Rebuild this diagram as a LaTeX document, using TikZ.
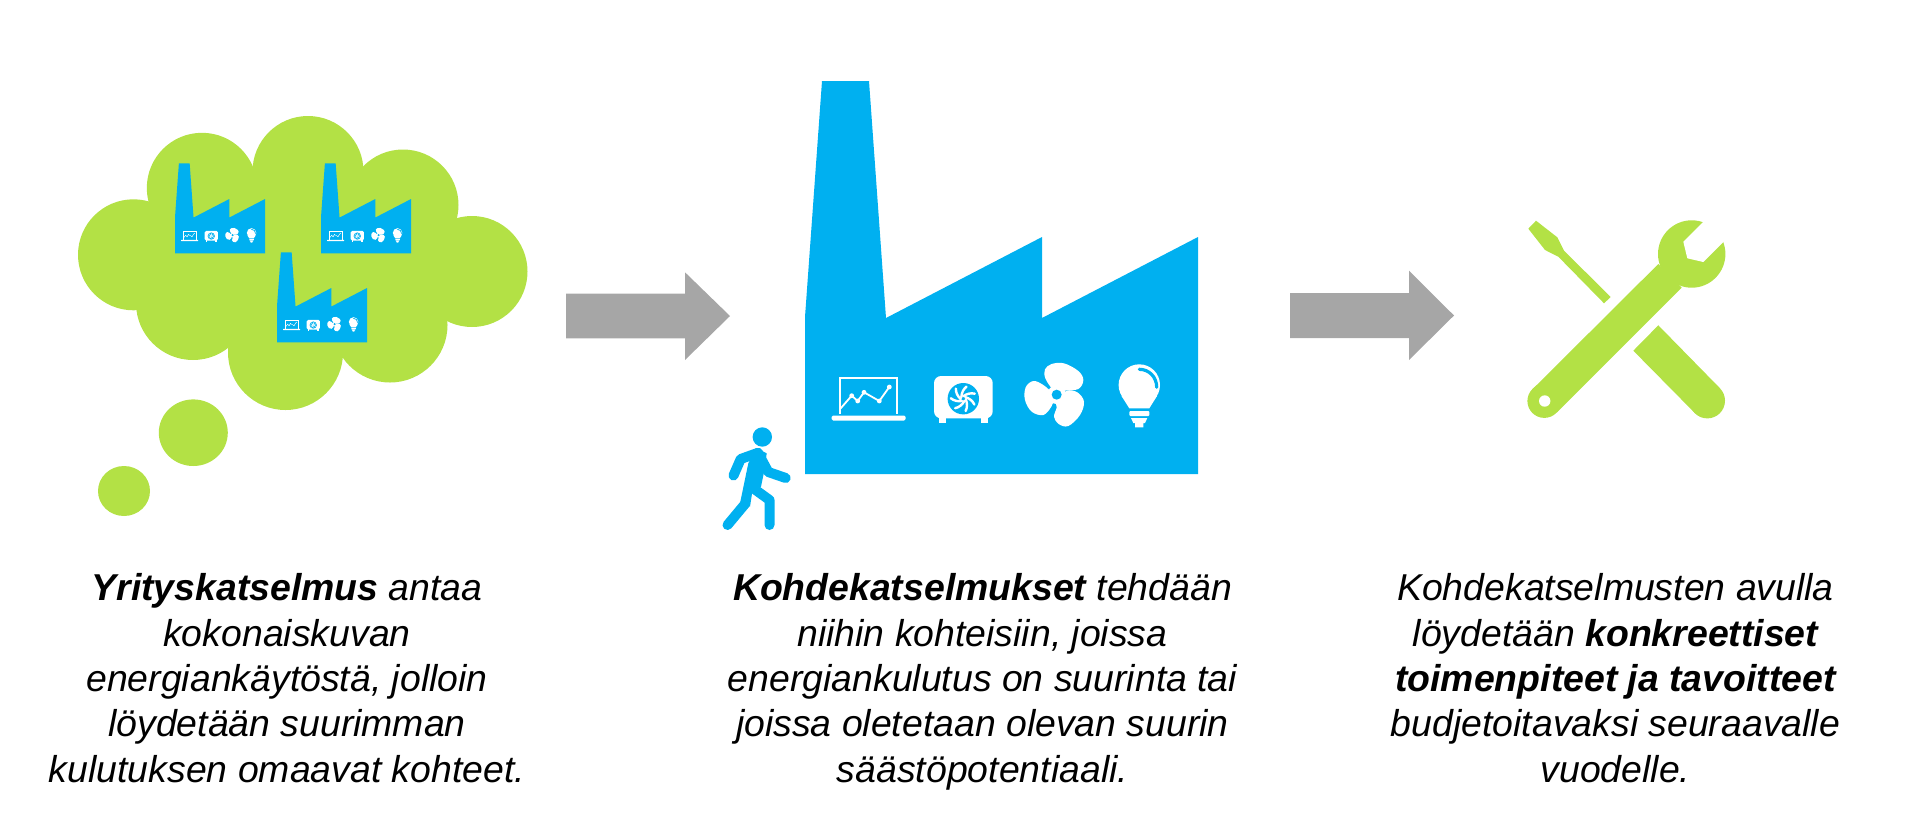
\documentclass[tikz,border=0pt]{standalone}
\usepackage{fontspec}
\setmainfont{Liberation Sans}
\definecolor{leaf}{HTML}{B3E145}
\definecolor{sky}{HTML}{00B0F0}
\definecolor{arrowgrey}{HTML}{A6A6A6}
\newcommand{\capstrut}{\rule[-10pt]{0pt}{32pt}}
\tikzset{
  caption/.style={inner sep=0pt,align=center,text=black,font={\fontsize{37.4}{45.3}\selectfont\itshape}},
  blockarrow/.style={fill=arrowgrey,draw=none},
  leafshape/.style={fill=leaf,draw=none},
  skyshape/.style={fill=sky,draw=none},
  whiteshape/.style={fill=white,draw=none}
}
\newcommand{\factory}[3]{%
\begin{scope}[shift={(#1,#2)},scale=#3,shift={(-805,-474)}]
  \fill[skyshape] (805,317) -- (822,81) -- (869,81) -- (886,318) -- (1042,237) -- (1042,318) -- (1198,237) -- (1198,474) -- (805,474) -- cycle;
  % laptop
  \draw[white,line width=#3*2pt] (840,414) -- (840,377.5) -- (897.3,377.5) -- (897.3,414);
  \fill[whiteshape,rounded corners=#3*1.5pt] (831.7,415.5) rectangle (905.7,420.5);
  \draw[white,line width=#3*1.8pt,line join=round] (840.7,408.3) -- (851.7,395.7) -- (857.7,401) -- (864,392.3) -- (879.3,401) -- (889.3,387);
  \foreach \p in {(851.7,395.7),(857.7,401),(864,392.3),(879.3,401),(889.3,387)} \fill[whiteshape] \p circle (2.4);
  % outdoor unit
  \fill[whiteshape,rounded corners=#3*7pt] (934,376) rectangle (992.7,418.3);
  \fill[whiteshape] (939.3,416) rectangle (946,423);
  \fill[whiteshape] (981,416) rectangle (987.7,423);
  \fill[skyshape] (963.3,398.7) circle (15.7);
  \foreach \a in {0,51.4,102.9,154.3,205.7,257.1,308.6}
    \draw[white,line width=#3*2.4pt,line cap=round,shift={(963.3,398.7)},rotate=\a] (0,-2.5) .. controls (3.5,-5) and (7.5,-6) .. (11.5,-5);
  % fan
  \begin{scope}[shift={(810,350)},scale=1/3]
    \fill[whiteshape] plot[smooth cycle,tension=0.6] coordinates {(728,118) (706,85) (705,58) (725,42) (762,40) (805,63) (820,90) (805,117) (762,122) (748,128)};
    \fill[whiteshape] plot[smooth cycle,tension=0.6] coordinates {(725,128) (700,105) (670,93) (647,112) (645,150) (665,185) (700,195) (724,170) (732,145)};
    \fill[whiteshape] plot[smooth cycle,tension=0.6] coordinates {(752,146) (770,122) (802,127) (822,155) (810,195) (775,228) (746,222) (732,200) (740,172) (736,150)};
    \fill[whiteshape] (740,134) circle (28);
    \fill[skyshape] (740,134) circle (15);
  \end{scope}
  % bulb
  \fill[whiteshape] (1139.3,385) circle (20.7);
  \fill[whiteshape] (1121.5,396) -- (1129.3,408.3) -- (1149.3,408.3) -- (1157,396) -- cycle;
  \fill[whiteshape,rounded corners=#3*1pt] (1129.3,411) rectangle (1149.3,416);
  \fill[whiteshape] (1131,418) -- (1147.3,418) -- (1145,423) -- (1143.3,423) -- (1143.3,427.3) -- (1135,427.3) -- (1135,423) -- (1133.3,423) -- cycle;
  \draw[sky,line width=#3*3.2pt,line cap=round] (1139.3,369.3) .. controls (1149,369.3) and (1156.7,377) .. (1156.7,387.3);
\end{scope}}
\begin{document}
\begin{tikzpicture}[x=1pt,y=-1pt]
\useasboundingbox (0,0) rectangle (1918,814);
% cloud
\fill[leafshape] (133.5,254.8) circle (55.5);
\fill[leafshape] (202,188) circle (55.2);
\fill[leafshape] (308,171.5) circle (55.5);
\fill[leafshape] (403,205) circle (55.5);
\fill[leafshape] (472,271.5) circle (55.5);
\fill[leafshape] (390,325) circle (57.5);
\fill[leafshape] (285.5,352.5) circle (57.5);
\fill[leafshape] (193,303) circle (57);
\fill[leafshape] (133.5,254.8) -- (202,188) -- (308,171.5) -- (403,205) -- (472,271.5) -- (390,325) -- (285.5,352.5) -- (193,303) -- cycle;
\fill[leafshape] (193.3,432.7) ellipse [x radius=34.5,y radius=33.3];
\fill[leafshape] (124,491) ellipse [x radius=26,y radius=25];
% small factories
\factory{175}{253.3}{0.229}
\factory{321}{253.3}{0.229}
\factory{277}{342.3}{0.229}
% big factory
\factory{805}{474}{1}
% person
\fill[skyshape] (762.3,437) circle (9.7);
\draw[sky,line width=10pt,line cap=round,line join=round] (733.5,475.5) -- (740.7,459) -- (758,452.8);
\draw[sky,line width=10pt,line cap=round,line join=round] (758,452.8) -- (768.3,472) -- (785.7,478);
\fill[skyshape] (748.3,463.3) -- (740,503.3) -- (750,506.7) -- (752.3,491.7) -- (761,486.7) -- (764.3,470.7) -- (766.7,453.3) -- (756.7,448.3) -- cycle;
\draw[sky,line width=10pt,line cap=round,line join=round] (745,504) -- (727.5,525);
\draw[sky,line width=10pt,line cap=round,line join=round] (755,489.5) -- (769.5,500) -- (769.5,525);
% arrows
\fill[blockarrow] (566,293.7) -- (685,293.7) -- (685,272.3) -- (730,316) -- (685,360) -- (685,338.3) -- (566,338.3) -- cycle;
\fill[blockarrow] (1290,293) -- (1409,293) -- (1409,270.7) -- (1454,315.5) -- (1409,360) -- (1409,338) -- (1290,338) -- cycle;
% wrench
\fill[leafshape] (1691.7,254) circle (33.7);
\fill[leafshape] (1658.3,264) -- (1532.7,389) -- (1556.7,412.7) -- (1681.7,287.7) -- cycle;
\fill[leafshape] (1544.3,401) circle (16.9);
\fill[whiteshape] (1544.7,401) circle (5.7);
\fill[whiteshape] (1683.3,241.7) -- (1702.7,222.3) -- (1712,213) -- (1732,233) -- (1722.7,242.7) -- (1703.3,262) -- (1687.3,258.3) -- cycle;
% screwdriver
\fill[leafshape] (1528.3,228.7) -- (1536,220.7) -- (1557.3,237.3) -- (1564,250.7) -- (1610.7,297) -- (1604,303.3) -- (1558.3,256.7) -- (1545,250) -- cycle;
\fill[leafshape] (1658.3,325.3) -- (1633.3,350.7) -- (1694.8,413) -- (1720,388.3) -- cycle;
\fill[leafshape] (1707.3,400.7) circle (17.7);
% captions
\node[caption] (yritys) at (287,683) {\capstrut\textbf{Yrityskatselmus} antaa\\kokonaiskuvan\\energiankäytöstä, jolloin\\löydetään suurimman\\kulutuksen omaavat kohteet.\capstrut};
\node[caption] (kohde) at (982.5,683) {\capstrut\textbf{Kohdekatselmukset} tehdään\\niihin kohteisiin, joissa\\energiankulutus on suurinta tai\\joissa oletetaan olevan suurin\\säästöpotentiaali.\capstrut};
\node[caption] (avulla) at (1615.5,683) {\capstrut Kohdekatselmusten avulla\\löydetään \textbf{konkreettiset}\\\textbf{toimenpiteet ja tavoitteet}\\budjetoitavaksi seuraavalle\\vuodelle.\capstrut};
\end{tikzpicture}
\end{document}
